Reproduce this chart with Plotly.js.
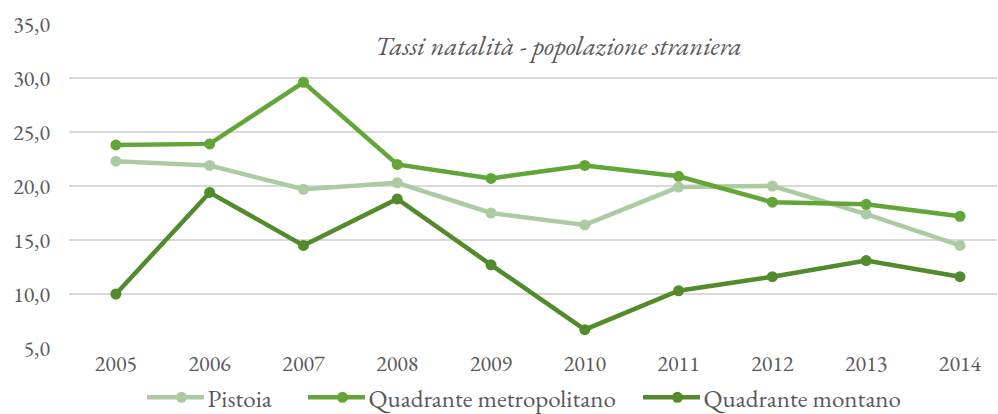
<!DOCTYPE html>
<html><head><meta charset="utf-8">
<script src="https://cdn.plot.ly/plotly-3.0.1.min.js"></script>
<style>html,body{margin:0;padding:0;background:#fff}#chart{width:998px;height:414px}</style>
</head><body><div id="chart"></div>
<script>
const years = [2005, 2006, 2007, 2008, 2009, 2010, 2011, 2012, 2013, 2014];
const pistoia = [22.3, 21.9, 19.7, 20.3, 17.5, 16.4, 19.9, 20.0, 17.4, 14.5];
const metropolitano = [23.8, 23.9, 29.6, 22.0, 20.7, 21.9, 20.9, 18.5, 18.3, 17.2];
const montano = [10.0, 19.4, 14.5, 18.8, 12.7, 6.7, 10.3, 11.6, 13.1, 11.6];
const seriesNames = ["Pistoia", "Quadrante metropolitano", "Quadrante montano"];
const colors = ["#ADCBA3", "#63A536", "#528A2C"];
const yTicks = [5, 10, 15, 20, 25, 30, 35];
const titleText = "Tassi natalità - popolazione straniera";

const font = "'EB Garamond', Garamond, 'Liberation Serif', 'DejaVu Serif', serif";
const data = [pistoia, metropolitano, montano].map((v, i) => ({
  x: years, y: v, name: seriesNames[i], type: 'scatter', mode: 'lines+markers',
  line: {color: colors[i], width: 4.5},
  marker: {color: colors[i], size: 11},
  cliponaxis: false
}));

const layout = {
  width: 998, height: 414,
  margin: {l: 69, r: 1, t: 23.5, b: 66, autoexpand: false},
  paper_bgcolor: '#fff', plot_bgcolor: '#fff',
  font: {family: font, color: '#595959', size: 22},
  separators: ',.',
  xaxis: {
    range: [2004.5, 2014.395], tickvals: years, ticktext: years.map(String),
    showgrid: false, zeroline: false, showline: false, ticks: '', automargin: false,
    tickfont: {size: 22, color: '#595959'}, fixedrange: true
  },
  yaxis: {
    range: [5, 35], tickvals: yTicks, tickformat: '.1f', automargin: false,
    showgrid: true, gridcolor: '#D9D9D9', gridwidth: 1.5,
    zeroline: false, showline: false, ticks: '', ticklabelstandoff: 18,
    tickfont: {size: 22, color: '#595959'}, fixedrange: true
  },
  legend: {
    orientation: 'h', x: 0.515, xanchor: 'center', y: -0.153, yanchor: 'middle',
    font: {size: 25, color: '#595959'}, itemwidth: 42, tracegroupgap: 0
  },
  annotations: [{
    text: '<i>' + titleText + '</i>', xref: 'paper', yref: 'paper',
    x: 0.528, y: 0.935, xanchor: 'center', yanchor: 'middle', showarrow: false,
    font: {size: 26.7, color: '#595959', family: font}
  }]
};
const legendStarts = [147, 308, 643];
Plotly.newPlot('chart', data, layout, {displayModeBar: false, staticPlot: true}).then(gd => {
  gd.querySelectorAll('.legend, .legend *').forEach(el => el.removeAttribute('clip-path'));
  const items = gd.querySelectorAll('.legend g.traces');
  items.forEach((g, i) => {
    const p = g.querySelector('.legendlines path');
    if (!p) return;
    p.setAttribute('d', 'M-8.5,0h57');
    const left = p.getBoundingClientRect().left - gd.getBoundingClientRect().left;
    const m = /translate\(\s*([-\d.e]+)[ ,]+([-\d.e]+)\s*\)/.exec(g.getAttribute('transform') || '');
    const tx = m ? parseFloat(m[1]) : 0, ty = m ? parseFloat(m[2]) : 0;
    g.setAttribute('transform', 'translate(' + (tx + legendStarts[i] - left) + ',' + ty + ')');
  });
});
</script>
</body></html>
